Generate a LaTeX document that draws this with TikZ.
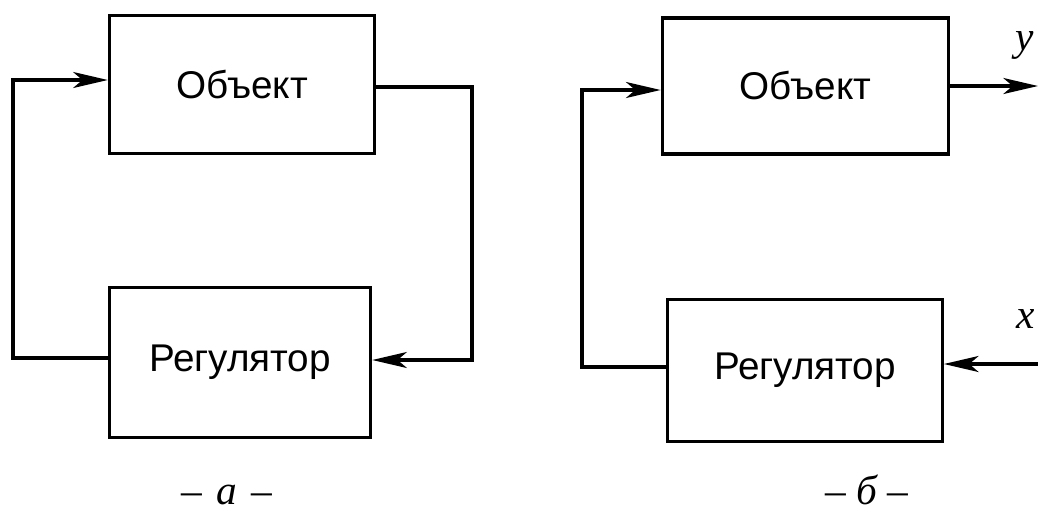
\documentclass[tikz,border=0pt]{standalone}
\usepackage{fontspec}
\setmainfont{Liberation Sans}
\newfontfamily\labfont{Liberation Serif}
\usetikzlibrary{arrows.meta}
\begin{document}
\begin{tikzpicture}[x=0.75pt,y=-0.75pt,
  every path/.style={line width=2.3pt},
  >={Stealth[length=26pt,width=12pt,inset=7pt]},
  blk/.style={draw, line width=2.3pt, rectangle, inner sep=0pt, font=\fontsize{29}{34}\selectfont},
  arr/.style={->, line width=2.3pt},
  lab/.style={font=\fontsize{31}{36}\selectfont\labfont\itshape, inner sep=0pt, text depth=0pt}]
\useasboundingbox (0,0) rectangle (1038,512);
% ---- left diagram (a)
\node[blk, minimum width=199pt, minimum height=104pt] (lobj) at (242,84.5) {Объект};
\node[blk, minimum width=196pt, minimum height=112pt] (lreg) at (240,362.5) {Регулятор};
\coordinate (la) at (13,358);
\coordinate (lb) at (13,80);
\coordinate (lc) at (472,87);
\coordinate (ld) at (472,360);
\draw[arr] (lreg.west |- la) -- (la) -- (lb) -- (lobj.west |- lb);
\draw[arr] (lobj.east |- lc) -- (lc) -- (ld) -- (lreg.east |- ld);
\node[lab, anchor=base] (lcap) at (227,504) {– \hspace{3pt}а\hspace{3pt} –};
% ---- right diagram (b)
\node[blk, minimum width=215pt, minimum height=102pt] (robj) at (805.5,86) {Объект};
\node[blk, minimum width=206pt, minimum height=107pt] (rreg) at (805,370.5) {Регулятор};
\coordinate (ra) at (582,367);
\coordinate (rb) at (582,90);
\coordinate (ry) at (1038,86);
\coordinate (rx) at (1038,364);
\draw[arr] (rreg.west |- ra) -- (ra) -- (rb) -- (robj.west |- rb);
\draw[arr] (robj.east |- ry) -- (ry);
\draw[arr] (rx) -- (rreg.east |- rx);
\node[lab, anchor=base] (ylab) at (1025,50) {y};
\node[lab, anchor=base] (xlab) at (1026,328) {x};
\node[lab, anchor=base] (rcap) at (867,504) {– б –};
\end{tikzpicture}
\end{document}
